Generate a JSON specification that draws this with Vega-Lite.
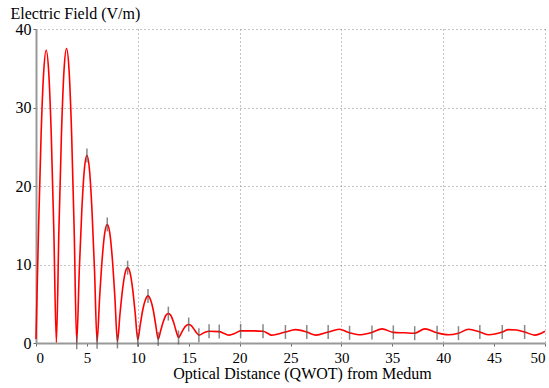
{
  "$schema": "https://vega.github.io/schema/vega-lite/v6.json",
  "width": 509,
  "height": 314,
  "autosize": "none",
  "padding": {"left": 36, "top": 29, "right": 4, "bottom": 45},
  "background": "white",
  "config": {
    "view": {"stroke": null},
    "font": "Liberation Serif, Times New Roman, serif",
    "axis": {"labelFont": "Liberation Serif, Times New Roman, serif", "titleFont": "Liberation Serif, Times New Roman, serif"}
  },
  "datasets": {
    "field": [
      {"x":0,"E":0.5},{"x":0.25,"E":14.5},{"x":0.5,"E":26.5},{"x":0.75,"E":34.4},{"x":1,"E":37.3},
      {"x":1.25,"E":34.5},{"x":1.5,"E":26.5},{"x":1.75,"E":14.4},{"x":2,"E":0.1},
      {"x":2.25,"E":14.4},{"x":2.5,"E":26.6},{"x":2.75,"E":34.7},{"x":3,"E":37.5},{"x":3.25,"E":34.7},
      {"x":3.5,"E":26.6},{"x":3.75,"E":14.4},{"x":4,"E":0.1},
      {"x":4.25,"E":9.2},{"x":4.5,"E":16.9},{"x":4.75,"E":22.1},{"x":5,"E":23.9},{"x":5.25,"E":22.1},
      {"x":5.5,"E":16.9},{"x":5.75,"E":9.2},{"x":6,"E":0.15},
      {"x":6.25,"E":5.8},{"x":6.5,"E":10.7},{"x":6.75,"E":14.0},{"x":7,"E":15.1},{"x":7.25,"E":14.0},
      {"x":7.5,"E":10.7},{"x":7.75,"E":5.8},{"x":8,"E":0.2},
      {"x":8.25,"E":3.7},{"x":8.5,"E":6.8},{"x":8.75,"E":8.9},{"x":9,"E":9.6},{"x":9.25,"E":8.9},
      {"x":9.5,"E":6.8},{"x":9.75,"E":3.7},{"x":10,"E":0.4},
      {"x":10.25,"E":2.4},{"x":10.5,"E":4.3},{"x":10.75,"E":5.5},{"x":11,"E":6.0},{"x":11.25,"E":5.5},
      {"x":11.5,"E":4.3},{"x":11.75,"E":2.4},{"x":12,"E":0.5},
      {"x":12.25,"E":1.6},{"x":12.5,"E":2.7},{"x":12.75,"E":3.5},{"x":13,"E":3.75},{"x":13.25,"E":3.5},
      {"x":13.5,"E":2.7},{"x":13.75,"E":1.6},{"x":14,"E":0.7},
      {"x":14.25,"E":1.2},{"x":14.5,"E":1.8},{"x":14.75,"E":2.2},{"x":15,"E":2.35},{"x":15.25,"E":2.2},
      {"x":15.5,"E":1.8},{"x":15.75,"E":1.35},{"x":16,"E":1.0},
      {"x":16.5,"E":1.3},{"x":17,"E":1.5},{"x":18,"E":1.45},{"x":18.5,"E":1.2},{"x":19,"E":1.0},
      {"x":19.5,"E":1.2},{"x":20.1,"E":1.55},{"x":21,"E":1.55},{"x":22.3,"E":1.5},{"x":22.8,"E":1.2},
      {"x":23.1,"E":1.0},{"x":23.8,"E":1.15},{"x":24.5,"E":1.4},{"x":25.5,"E":1.7},{"x":26.6,"E":1.4},
      {"x":27.5,"E":1.0},{"x":28.7,"E":1.4},{"x":29.8,"E":1.75},{"x":30.8,"E":1.3},{"x":31.7,"E":1.05},
      {"x":33.0,"E":1.35},{"x":34.0,"E":1.8},{"x":35.1,"E":1.35},{"x":36.2,"E":1.3},{"x":37.2,"E":1.25},
      {"x":38.2,"E":1.8},{"x":39.4,"E":1.3},{"x":40.5,"E":1.05},{"x":41.5,"E":1.25},{"x":42.5,"E":1.75},
      {"x":43.6,"E":1.4},{"x":44.5,"E":1.05},{"x":45.8,"E":1.4},{"x":46.4,"E":1.7},{"x":47.2,"E":1.65},
      {"x":48.0,"E":1.4},{"x":49.0,"E":1.0},{"x":50,"E":1.5}
    ],
    "bounds": [
      {"x":4,"E":0.1},{"x":5,"E":23.9},{"x":6,"E":0.15},{"x":7,"E":15.1},{"x":8,"E":0.2},
      {"x":9,"E":9.6},{"x":10,"E":0.4},{"x":11,"E":6.0},{"x":12,"E":0.5},{"x":13,"E":3.75},
      {"x":14,"E":0.7},{"x":15,"E":2.35},{"x":16,"E":1.0},{"x":17,"E":1.5},{"x":18,"E":1.45},
      {"x":20.1,"E":1.55},{"x":22.3,"E":1.5},{"x":24.5,"E":1.4},{"x":26.6,"E":1.4},{"x":28.7,"E":1.4},
      {"x":30.8,"E":1.3},{"x":33.0,"E":1.35},{"x":35.1,"E":1.35},{"x":37.2,"E":1.25},{"x":39.4,"E":1.3},
      {"x":41.5,"E":1.25},{"x":43.6,"E":1.4},{"x":45.8,"E":1.4},{"x":48.0,"E":1.4}
    ]
  },
  "layer": [
    {
      "data": {"name": "field"},
      "mark": {"type": "line", "color": "#ff0000", "strokeWidth": 1.6, "interpolate": "monotone"},
      "encoding": {
        "x": {
          "field": "x", "type": "quantitative",
          "scale": {"domain": [0, 50], "nice": false, "zero": false},
          "axis": {
            "title": "Optical Distance (QWOT) from Medum",
            "titleFontSize": 16, "titleFontWeight": "normal", "titleColor": "black",
            "titleX": 266, "titleY": 35, "titleAlign": "center", "titleBaseline": "alphabetic",
            "values": [0,5,10,15,20,25,30,35,40,45,50],
            "labelFontSize": 15, "labelColor": "black", "labelPadding": 4,
            "labelFlush": true, "labelOverlap": false,
            "domainColor": "#999999", "domainWidth": 2,
            "tickColor": "#666666", "tickSize": 3,
            "grid": true, "gridColor": "#888888", "gridDash": [1, 3], "gridWidth": 1,
            "gridOpacity": {"condition": {"test": "datum.value % 10 === 0 && datum.value > 0", "value": 1}, "value": 0}
          }
        },
        "y": {
          "field": "E", "type": "quantitative",
          "scale": {"domain": [0, 40], "nice": false},
          "axis": {
            "title": "Electric Field (V/m)",
            "titleFontSize": 16, "titleFontWeight": "normal", "titleColor": "black",
            "titleAngle": 0, "titleX": -26, "titleY": -11, "titleAlign": "left", "titleBaseline": "alphabetic",
            "values": [0,5,10,15,20,25,30,35,40],
            "labelExpr": "datum.value % 10 === 0 ? datum.label : ''",
            "labelFontSize": 16, "labelColor": "black", "labelPadding": 2,
            "labelFlush": false, "labelOverlap": false,
            "domainColor": "#999999", "domainWidth": 2,
            "tickColor": "#666666", "tickSize": 3,
            "grid": true, "gridColor": "#888888", "gridDash": [1, 3], "gridWidth": 1,
            "gridOpacity": {"condition": {"test": "datum.value % 10 === 0 && datum.value > 0", "value": 1}, "value": 0}
          }
        }
      }
    },
    {
      "data": {"name": "bounds"},
      "mark": {"type": "tick", "orient": "vertical", "color": "#555555", "opacity": 0.7, "size": 14, "thickness": 1.5},
      "encoding": {
        "x": {"field": "x", "type": "quantitative"},
        "y": {"field": "E", "type": "quantitative"}
      }
    }
  ]
}
